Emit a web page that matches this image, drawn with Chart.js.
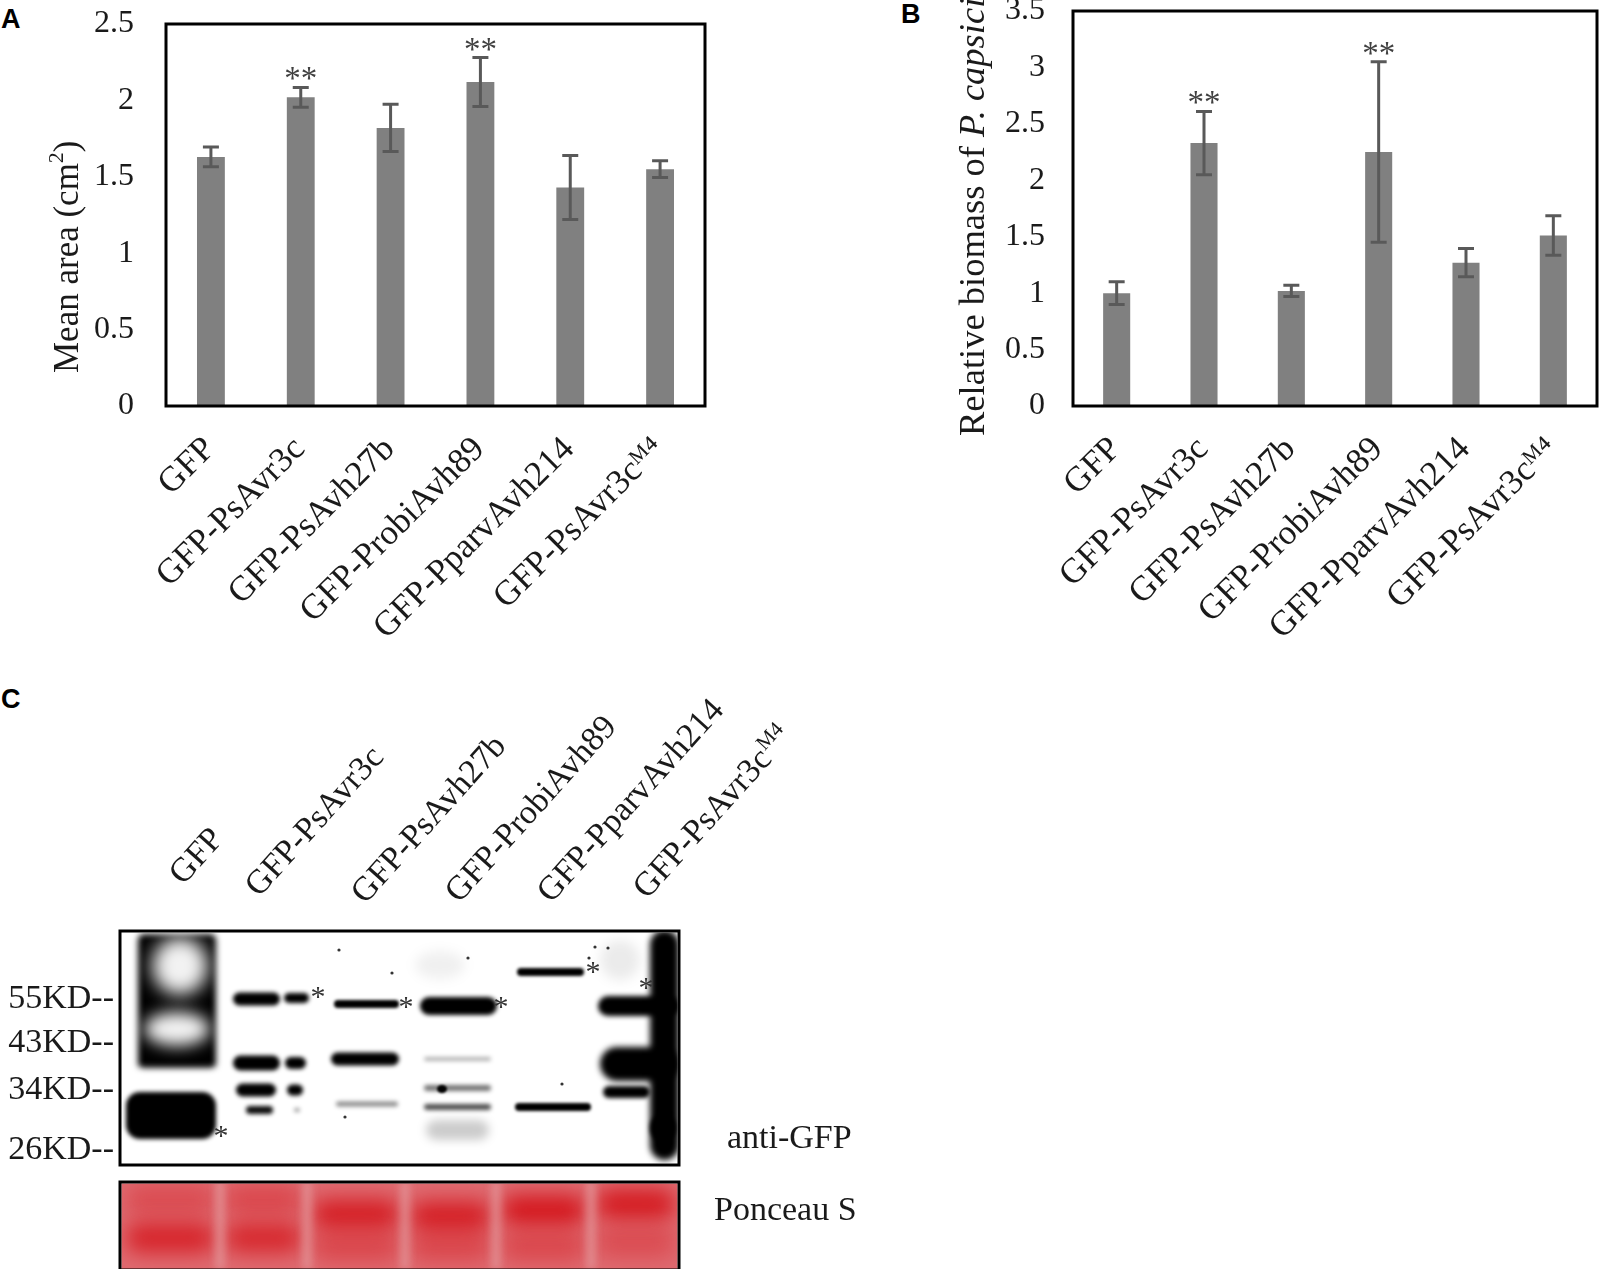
<!DOCTYPE html>
<html>
<head>
<meta charset="utf-8">
<script src="https://cdn.jsdelivr.net/npm/chart.js@4.4.1/dist/chart.umd.min.js"></script>
<style>
  body { margin: 0; background: #fff; width: 1600px; height: 1269px; position: relative; overflow: hidden; }
  .box { position: absolute; }
  .tag { position: absolute; font: bold 27px 'Liberation Sans', Arial, sans-serif; line-height: 27px; color: #000; }
</style>
</head>
<body>
<div class="tag" style="left:1px;top:6px">A</div>
<div class="tag" style="left:901px;top:1px">B</div>
<div class="tag" style="left:1px;top:686px">C</div>

<div class="box" style="left:0;top:0;width:730px;height:660px"><canvas id="chartA"></canvas></div>
<div class="box" style="left:880px;top:0;width:720px;height:660px"><canvas id="chartB"></canvas></div>
<canvas id="blot" width="880" height="629" style="position:absolute;left:0;top:640px"></canvas>

<script>
const SERIF = "'Liberation Serif', 'Times New Roman', 'DejaVu Serif', serif";

// bar chart data
const categories = ['GFP', 'GFP-PsAvr3c', 'GFP-PsAvh27b', 'GFP-ProbiAvh89', 'GFP-PparvAvh214', 'GFP-PsAvr3c\u1D39\u2074'];
const meanArea = [1.63, 2.02, 1.82, 2.12, 1.43, 1.55];
const meanAreaErr = [0.065, 0.065, 0.155, 0.16, 0.21, 0.055];
const biomass = [1.0, 2.33, 1.02, 2.25, 1.27, 1.51];
const biomassErr = [0.1, 0.28, 0.05, 0.8, 0.125, 0.175];
const significant = [false, true, false, true, false, false];
const areaTicks = [0, 0.5, 1, 1.5, 2, 2.5];
const biomassTicks = [0, 0.5, 1, 1.5, 2, 2.5, 3, 3.5];

// western blot labels
const laneLabels = ['GFP', 'GFP-PsAvr3c', 'GFP-PsAvh27b', 'GFP-ProbiAvh89', 'GFP-PparvAvh214', 'GFP-PsAvr3c'];
const markerLabels = ['55KD--', '43KD--', '34KD--', '26KD--'];

// frame around plot area
const framePlugin = {
  id: 'frame',
  afterDraw(chart) {
    const a = chart.chartArea, ctx = chart.ctx;
    ctx.save();
    ctx.strokeStyle = '#000';
    ctx.lineWidth = 3;
    ctx.strokeRect(a.left, a.top, a.right - a.left, a.bottom - a.top);
    ctx.restore();
  }
};

// error bars + significance stars
const errorBarPlugin = {
  id: 'errorBars',
  afterDatasetsDraw(chart, args, opts) {
    const ctx = chart.ctx, y = chart.scales.y;
    const values = chart.data.datasets[0].data;
    ctx.save();
    ctx.strokeStyle = '#595959';
    ctx.lineWidth = 3;
    chart.getDatasetMeta(0).data.forEach((bar, i) => {
      const top = y.getPixelForValue(values[i] + opts.errors[i]);
      const bot = y.getPixelForValue(values[i] - opts.errors[i]);
      ctx.beginPath();
      ctx.moveTo(bar.x, top); ctx.lineTo(bar.x, bot);
      ctx.moveTo(bar.x - 8, top); ctx.lineTo(bar.x + 8, top);
      ctx.moveTo(bar.x - 8, bot); ctx.lineTo(bar.x + 8, bot);
      ctx.stroke();
      if (significant[i]) {
        ctx.fillStyle = '#404040';
        ctx.font = '33px ' + SERIF;
        ctx.textAlign = 'center';
        ctx.textBaseline = 'alphabetic';
        ctx.fillText('**', bar.x, top + 2);
      }
    });
    ctx.restore();
  }
};

// y axis title with mixed styles
const yTitlePlugin = {
  id: 'yTitle',
  afterDraw(chart, args, opts) {
    const ctx = chart.ctx;
    ctx.save();
    ctx.translate(chart.chartArea.left - opts.offset, opts.bottom);
    ctx.rotate(-Math.PI / 2);
    ctx.fillStyle = '#1a1a1a';
    ctx.textBaseline = 'middle';
    ctx.textAlign = 'left';
    let x = 0;
    opts.parts.forEach(p => {
      ctx.font = p.font;
      ctx.fillText(p.text, x, p.dy || 0);
      x += ctx.measureText(p.text).width;
    });
    ctx.restore();
  }
};

function barChart(id, values, errors, ticks, cfg) {
  return new Chart(document.getElementById(id), {
    type: 'bar',
    data: {
      labels: categories,
      datasets: [{ data: values, backgroundColor: '#808080', barPercentage: 0.31, categoryPercentage: 1 }]
    },
    options: {
      responsive: true,
      maintainAspectRatio: false,
      animation: false,
      layout: { padding: { top: cfg.top, right: cfg.right, left: 0, bottom: 0 } },
      plugins: {
        legend: { display: false },
        tooltip: { enabled: false },
        errorBars: { errors: errors },
        yTitle: cfg.title
      },
      scales: {
        x: {
          grid: { display: false, drawTicks: false },
          border: { display: false },
          ticks: {
            font: { family: SERIF, size: 35 }, color: '#1a1a1a',
            minRotation: 45, maxRotation: 45, autoSkip: false,
            padding: 23, labelOffset: -1
          },
          afterFit: s => { s.height = 660 - cfg.bottom; s.paddingLeft = 0; s.paddingRight = 0; }
        },
        y: {
          min: ticks[0], max: ticks[ticks.length - 1],
          grid: { display: false, drawTicks: false },
          border: { display: false },
          afterBuildTicks: s => { s.ticks = ticks.map(v => ({ value: v })); },
          ticks: { font: { family: SERIF, size: 32 }, color: '#1a1a1a', padding: cfg.tickPad, callback: v => String(v) },
          afterFit: s => { s.width = cfg.left; s.paddingTop = 0; s.paddingBottom = 0; }
        }
      }
    },
    plugins: [framePlugin, errorBarPlugin, yTitlePlugin]
  });
}

barChart('chartA', meanArea, meanAreaErr, areaTicks, {
  top: 24, right: 25, left: 166, bottom: 406, tickPad: 32,
  title: {
    offset: 97, bottom: 373,
    parts: [
      { text: 'Mean area (cm', font: '35px ' + SERIF },
      { text: '2', font: '22px ' + SERIF, dy: -12 },
      { text: ')', font: '35px ' + SERIF }
    ]
  }
});

barChart('chartB', biomass, biomassErr, biomassTicks, {
  top: 11, right: 3, left: 193, bottom: 406, tickPad: 28,
  title: {
    offset: 99, bottom: 436,
    parts: [
      { text: 'Relative biomass of ', font: '36.5px ' + SERIF },
      { text: 'P. capsici', font: 'italic 36.5px ' + SERIF }
    ]
  }
});

// ---- panel C: western blot sketch ----
const g = document.getElementById('blot').getContext('2d');
g.translate(0, -640);
g.fillStyle = '#1a1a1a';

const laneStart = [[183, 886], [259, 898], [365, 905], [459, 904], [551, 904], [647, 900]];
laneLabels.forEach((t, i) => {
  g.save();
  g.translate(laneStart[i][0], laneStart[i][1]);
  g.rotate(-48 * Math.PI / 180);
  g.font = '34px ' + SERIF;
  g.fillText(t, 0, 0);
  if (i === 5) {
    const w = g.measureText(t).width;
    g.font = '21px ' + SERIF;
    g.fillText('M4', w + 1, -12);
  }
  g.restore();
});

g.font = '34px ' + SERIF;
g.textAlign = 'right';
g.textBaseline = 'middle';
const markerY = [999, 1043, 1090, 1150];
markerLabels.forEach((t, i) => g.fillText(t, 114, markerY[i]));
g.textAlign = 'left';
g.fillText('anti-GFP', 727, 1139);
g.fillText('Ponceau S', 714, 1211);

function band(x1, x2, y, h, alpha, blur) {
  g.save();
  g.globalAlpha = alpha;
  g.filter = 'blur(' + blur + 'px)';
  g.fillStyle = '#000';
  g.beginPath();
  g.roundRect(x1, y - h / 2, x2 - x1, h, h / 2);
  g.fill();
  g.restore();
}
function blob(cx, cy, rx, ry, color, alpha, blur) {
  g.save();
  g.globalAlpha = alpha;
  g.filter = 'blur(' + blur + 'px)';
  g.fillStyle = color;
  g.beginPath();
  g.ellipse(cx, cy, rx, ry, 0, 0, Math.PI * 2);
  g.fill();
  g.restore();
}

// blot membrane
g.save();
g.beginPath();
g.rect(121.5, 932.5, 556, 231);
g.clip();
g.fillStyle = '#fff';
g.fillRect(120, 930, 560, 236);

// GFP lane
g.save();
g.filter = 'blur(3px)';
g.fillStyle = '#000';
g.beginPath(); g.roundRect(138, 934, 78, 136, 6); g.fill();
g.restore();
blob(180, 966, 28, 29, '#fff', 0.95, 9);
blob(177, 1029, 33, 17, '#fff', 0.95, 8);
g.save(); g.filter = 'blur(5px)'; g.fillStyle = '#fff'; g.fillRect(130, 1070, 95, 22); g.restore();
g.save(); g.filter = 'blur(2px)'; g.fillStyle = '#000';
g.beginPath(); g.roundRect(126, 1092, 90, 47, 14); g.fill(); g.restore();

// other lanes: [x1, x2, y, h, alpha, blur]
const bands = [
  [233, 280, 999, 13, 1, 2], [284, 309, 998, 10, 1, 2],
  [233, 280, 1063, 15, 1, 2], [285, 306, 1063, 12, 1, 2],
  [236, 276, 1090, 13, 1, 2], [287, 303, 1090, 11, 1, 2],
  [246, 273, 1110, 8, 0.95, 2], [294, 300, 1110, 4, 0.4, 2],
  [334, 399, 1004, 8, 1, 1.5],
  [331, 399, 1059, 13, 1, 2],
  [336, 398, 1104, 5, 0.45, 2],
  [420, 497, 1006, 18, 1, 2],
  [424, 491, 1059, 4, 0.3, 2],
  [424, 491, 1088, 6, 0.55, 2],
  [424, 491, 1107, 6, 0.7, 2],
  [426, 489, 1130, 20, 0.2, 5],
  [517, 584, 972, 8, 1, 1.5],
  [515, 591, 1107, 8, 1, 1.5],
  [598, 679, 1006, 20, 1, 2.5],
  [600, 679, 1064, 34, 1, 3],
  [603, 650, 1092, 12, 1, 2],
  [650, 679, 1045, 230, 1, 3],
  [600, 640, 960, 40, 0.08, 6]
];
bands.forEach(b => band(b[0], b[1], b[2], b[3], b[4], b[5]));
blob(442, 1089, 5, 4, '#000', 1, 1);
blob(663, 1128, 13, 14, '#000', 1, 2);
blob(440, 965, 25, 14, '#000', 0.06, 6);
[[339, 950], [392, 973], [468, 958], [562, 1084], [595, 947], [589, 958], [608, 948], [345, 1117]].forEach(p => blob(p[0], p[1], 1.6, 1.6, '#000', 0.8, 0.5));
g.restore();

g.strokeStyle = '#000';
g.lineWidth = 3;
g.strokeRect(120, 931, 559, 234);

// asterisks
g.fillStyle = '#333';
g.font = '30px ' + SERIF;
g.textAlign = 'center';
g.textBaseline = 'middle';
[[221, 1131], [318, 992], [406, 1002], [501, 1002], [593, 967], [646, 983]].forEach(p => g.fillText('*', p[0], p[1] + 6));

// Ponceau S strip
g.save();
g.beginPath();
g.rect(121.5, 1183.5, 556, 86);
g.clip();
g.fillStyle = '#df6a70';
g.fillRect(120, 1180, 560, 90);
const ponceau = [
  [124, 216, 1200, 0.35, 1238, 0.8],
  [224, 303, 1200, 0.4, 1238, 0.75],
  [311, 401, 1214, 0.85, 1246, 0.4],
  [409, 492, 1216, 0.85, 1246, 0.4],
  [500, 587, 1210, 0.95, 1246, 0.4],
  [595, 677, 1204, 0.9, 1242, 0.35]
];
ponceau.forEach(l => {
  [[l[2], l[3]], [l[4], l[5]]].forEach(b => {
    g.save();
    g.globalAlpha = b[1];
    g.filter = 'blur(10px)';
    g.fillStyle = '#d4141a';
    g.beginPath();
    g.roundRect(l[0] + 2, b[0] - 15, l[1] - l[0] - 4, 30, 14);
    g.fill();
    g.restore();
  });
});
[220, 307, 405, 496, 591].forEach(x => {
  g.save(); g.filter = 'blur(4px)'; g.fillStyle = '#e49ca0'; g.globalAlpha = 0.8;
  g.fillRect(x - 4, 1180, 8, 90); g.restore();
});
g.restore();
g.strokeRect(120, 1182, 559, 88);
</script>
</body>
</html>
